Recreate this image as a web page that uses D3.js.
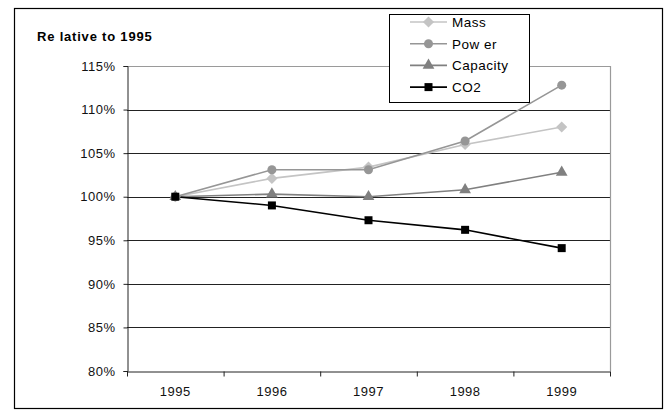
<!DOCTYPE html>
<html lang="en">
<head>
<meta charset="utf-8">
<title>Relative to 1995</title>
<script src="https://cdn.jsdelivr.net/npm/d3@7"></script>
<style>
  body { margin: 0; background: #fff; }
  text { font-family: "Liberation Sans", Arial, sans-serif; }
</style>
</head>
<body>
<script>
// data
var years = ["1995", "1996", "1997", "1998", "1999"];
var mass     = [100, 102.1, 103.4, 106.0, 108.0];
var power    = [100, 103.1, 103.1, 106.4, 112.8];
var capacity = [100, 100.3, 100.0, 100.8, 102.8];
var co2      = [100, 99.0, 97.3, 96.2, 94.1];
var yTicks = [80, 85, 90, 95, 100, 105, 110, 115];
var seriesNames = ["Mass", "Pow er", "Capacity", "CO2"];

var w = 665, h = 410;
// plot area (window.top is reserved, so use other names)
var plotL = 127, plotR = 610, plotT = 66, plotB = 371;

// square turned 45deg = excel style diamond
var symDiamond = { draw: function(ctx, size) {
  var r = Math.sqrt(size) / Math.SQRT2 * 1.05;
  ctx.moveTo(0, -r); ctx.lineTo(r, 0); ctx.lineTo(0, r); ctx.lineTo(-r, 0); ctx.closePath();
}};

var series = [
  { name: seriesNames[0], values: mass,     color: "#c4c4c4", sym: symDiamond,       size: 56 },
  { name: seriesNames[1], values: power,    color: "#969696", sym: d3.symbolCircle,  size: 64 },
  { name: seriesNames[2], values: capacity, color: "#808080", sym: d3.symbolTriangle, size: 60 },
  { name: seriesNames[3], values: co2,      color: "#000000", sym: d3.symbolSquare,  size: 64 }
];

var svg = d3.select("body").append("svg").attr("width", w).attr("height", h);

// outer frame
svg.append("rect").attr("x", 14.5).attr("y", 8.5).attr("width", 648).attr("height", 400)
  .attr("fill", "none").attr("stroke", "#000").attr("stroke-width", 1.2);

var x = d3.scaleBand().domain(years).range([plotL, plotR]);
var y = d3.scaleLinear().domain([80, 115]).range([plotB, plotT]);

// gridlines
svg.append("g").selectAll("line").data(yTicks.slice(1, -1)).enter().append("line")
  .attr("x1", plotL).attr("x2", plotR)
  .attr("y1", function(d){ return Math.round(y(d)) + 0.5; })
  .attr("y2", function(d){ return Math.round(y(d)) + 0.5; })
  .attr("stroke", "#222").attr("stroke-width", 1);

// plot border (top/right gray)
svg.append("path")
  .attr("d", "M" + plotL + "," + (plotT + 0.5) + "H" + (plotR + 0.5) + "V" + plotB)
  .attr("fill", "none").attr("stroke", "#9a9a9a").attr("stroke-width", 1.2);

// y axis
var yAxis = svg.append("g").attr("transform", "translate(" + (plotL + 0.5) + ",0)")
  .call(d3.axisLeft(y).tickValues(yTicks).tickSize(4).tickPadding(8)
    .tickFormat(function(d){ return d + "%"; }));
yAxis.select(".domain").attr("stroke", "#222");
yAxis.selectAll(".tick line").attr("stroke", "#222");
yAxis.selectAll("text").attr("font-size", 13).attr("fill", "#111")
  .attr("letter-spacing", 0.5);

// x axis
var xAxis = svg.append("g").attr("transform", "translate(0," + (plotB + 0.5) + ")")
  .call(d3.axisBottom(x).tickSize(0).tickPadding(15));
xAxis.select(".domain").attr("stroke", "#222");
xAxis.selectAll("text").attr("font-size", 13).attr("fill", "#111")
  .attr("letter-spacing", 0.5);
xAxis.selectAll("line.sep").data(d3.range(years.length + 1)).enter().append("line")
  .attr("class", "sep")
  .attr("x1", function(i){ return plotL + i * x.step() + 0.5; })
  .attr("x2", function(i){ return plotL + i * x.step() + 0.5; })
  .attr("y1", 0).attr("y2", 5).attr("stroke", "#222");

// title
svg.append("text").attr("x", 37).attr("y", 41)
  .attr("font-size", 13).attr("font-weight", "bold").attr("letter-spacing", 0.8)
  .text("Re lative to 1995");

// lines and markers
var line = d3.line()
  .x(function(d, i){ return x(years[i]) + x.bandwidth() / 2; })
  .y(function(d){ return y(d); });

series.forEach(function(s){
  svg.append("path").datum(s.values).attr("d", line)
    .attr("fill", "none").attr("stroke", s.color).attr("stroke-width", 1.6);
});
series.forEach(function(s){
  svg.append("g").selectAll("path").data(s.values).enter().append("path")
    .attr("d", d3.symbol().type(s.sym).size(s.size))
    .attr("transform", function(d, i){
      return "translate(" + (x(years[i]) + x.bandwidth() / 2) + "," + y(d) + ")";
    })
    .attr("fill", s.color);
});

// legend
var lg = svg.append("g");
lg.append("rect").attr("x", 389.5).attr("y", 14.5).attr("width", 140).attr("height", 88)
  .attr("fill", "#fff").attr("stroke", "#000").attr("stroke-width", 1);
var items = lg.selectAll("g.item").data(series).enter().append("g")
  .attr("transform", function(d, i){ return "translate(0," + (22 + i * 21.7) + ")"; });
items.append("line").attr("x1", 410).attr("x2", 447).attr("y1", 0).attr("y2", 0)
  .attr("stroke", function(d){ return d.color; }).attr("stroke-width", 1.6);
items.append("path")
  .attr("d", function(d){ return d3.symbol().type(d.sym).size(d.size)(); })
  .attr("transform", "translate(428.5,0)")
  .attr("fill", function(d){ return d.color; });
items.append("text").attr("x", 452).attr("y", 0).attr("dy", "0.36em")
  .attr("font-size", 13.5).attr("letter-spacing", 0.5)
  .text(function(d){ return d.name; });
</script>
</body>
</html>
